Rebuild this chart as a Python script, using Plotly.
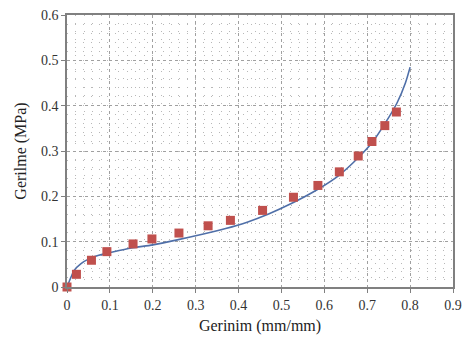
import plotly.graph_objects as go

# Experimental points
exp_x = [0.0, 0.022, 0.057, 0.093, 0.154, 0.198, 0.261, 0.329, 0.381, 0.456,
         0.528, 0.585, 0.635, 0.679, 0.711, 0.741, 0.768]
exp_y = [0.0, 0.028, 0.059, 0.078, 0.095, 0.106, 0.119, 0.135, 0.147, 0.169,
         0.198, 0.224, 0.254, 0.289, 0.321, 0.356, 0.386]

# Model curve
fit_x = [0.0, 0.0095, 0.017, 0.032, 0.051, 0.074, 0.097, 0.15, 0.2, 0.257,
         0.318, 0.37, 0.42, 0.47, 0.523, 0.584, 0.635, 0.679, 0.711, 0.743,
         0.770, 0.789, 0.800]
fit_y = [0.0, 0.022, 0.037, 0.051, 0.062, 0.070, 0.075, 0.086, 0.093, 0.104,
         0.117, 0.129, 0.143, 0.161, 0.184, 0.215, 0.247, 0.285, 0.318, 0.363,
         0.407, 0.450, 0.485]

x_ticks = [0, 0.1, 0.2, 0.3, 0.4, 0.5, 0.6, 0.7, 0.8, 0.9]
y_ticks = [0, 0.1, 0.2, 0.3, 0.4, 0.5, 0.6]

fig = go.Figure()
fig.add_trace(go.Scatter(x=fit_x, y=fit_y, mode="lines",
                         line=dict(color="#4f6fa8", width=1.6, shape="spline",
                                   smoothing=0.8),
                         showlegend=False))
fig.add_trace(go.Scatter(x=exp_x, y=exp_y, mode="markers",
                         marker=dict(symbol="square", size=9, color="#c0504d",
                                     line=dict(width=0)),
                         showlegend=False, cliponaxis=False))

font_serif = "'Liberation Serif', 'DejaVu Serif', Tinos, 'Times New Roman', Times, serif"
axis_common = dict(
    showline=True, linecolor="#808080", linewidth=1.5, mirror=True,
    ticks="outside", ticklen=4, tickcolor="#808080", tickwidth=1,
    showgrid=True, gridcolor="#a0a0a0", gridwidth=1, griddash="dot",
    zeroline=False,
    tickfont=dict(family=font_serif, size=14, color="#333333"),
    minor=dict(dtick=0.02, showgrid=True, gridcolor="#b8b8b8", gridwidth=1,
               griddash="1px,7px", ticks=""),
)

fig.update_xaxes(range=[0, 0.9], tickvals=x_ticks,
                 title=dict(text="Gerinim (mm/mm)", standoff=8,
                            font=dict(family=font_serif, size=16, color="#222222")),
                 **axis_common)
fig.update_yaxes(range=[0, 0.6], tickvals=y_ticks,
                 title=dict(text="Gerilme (MPa)", standoff=10,
                            font=dict(family=font_serif, size=16, color="#222222")),
                 **axis_common)

fig.update_layout(width=470, height=345,
                  margin=dict(l=67, r=8, t=12, b=58),
                  plot_bgcolor="white", paper_bgcolor="white",
                  font=dict(family=font_serif))

fig.write_html("out.html")
